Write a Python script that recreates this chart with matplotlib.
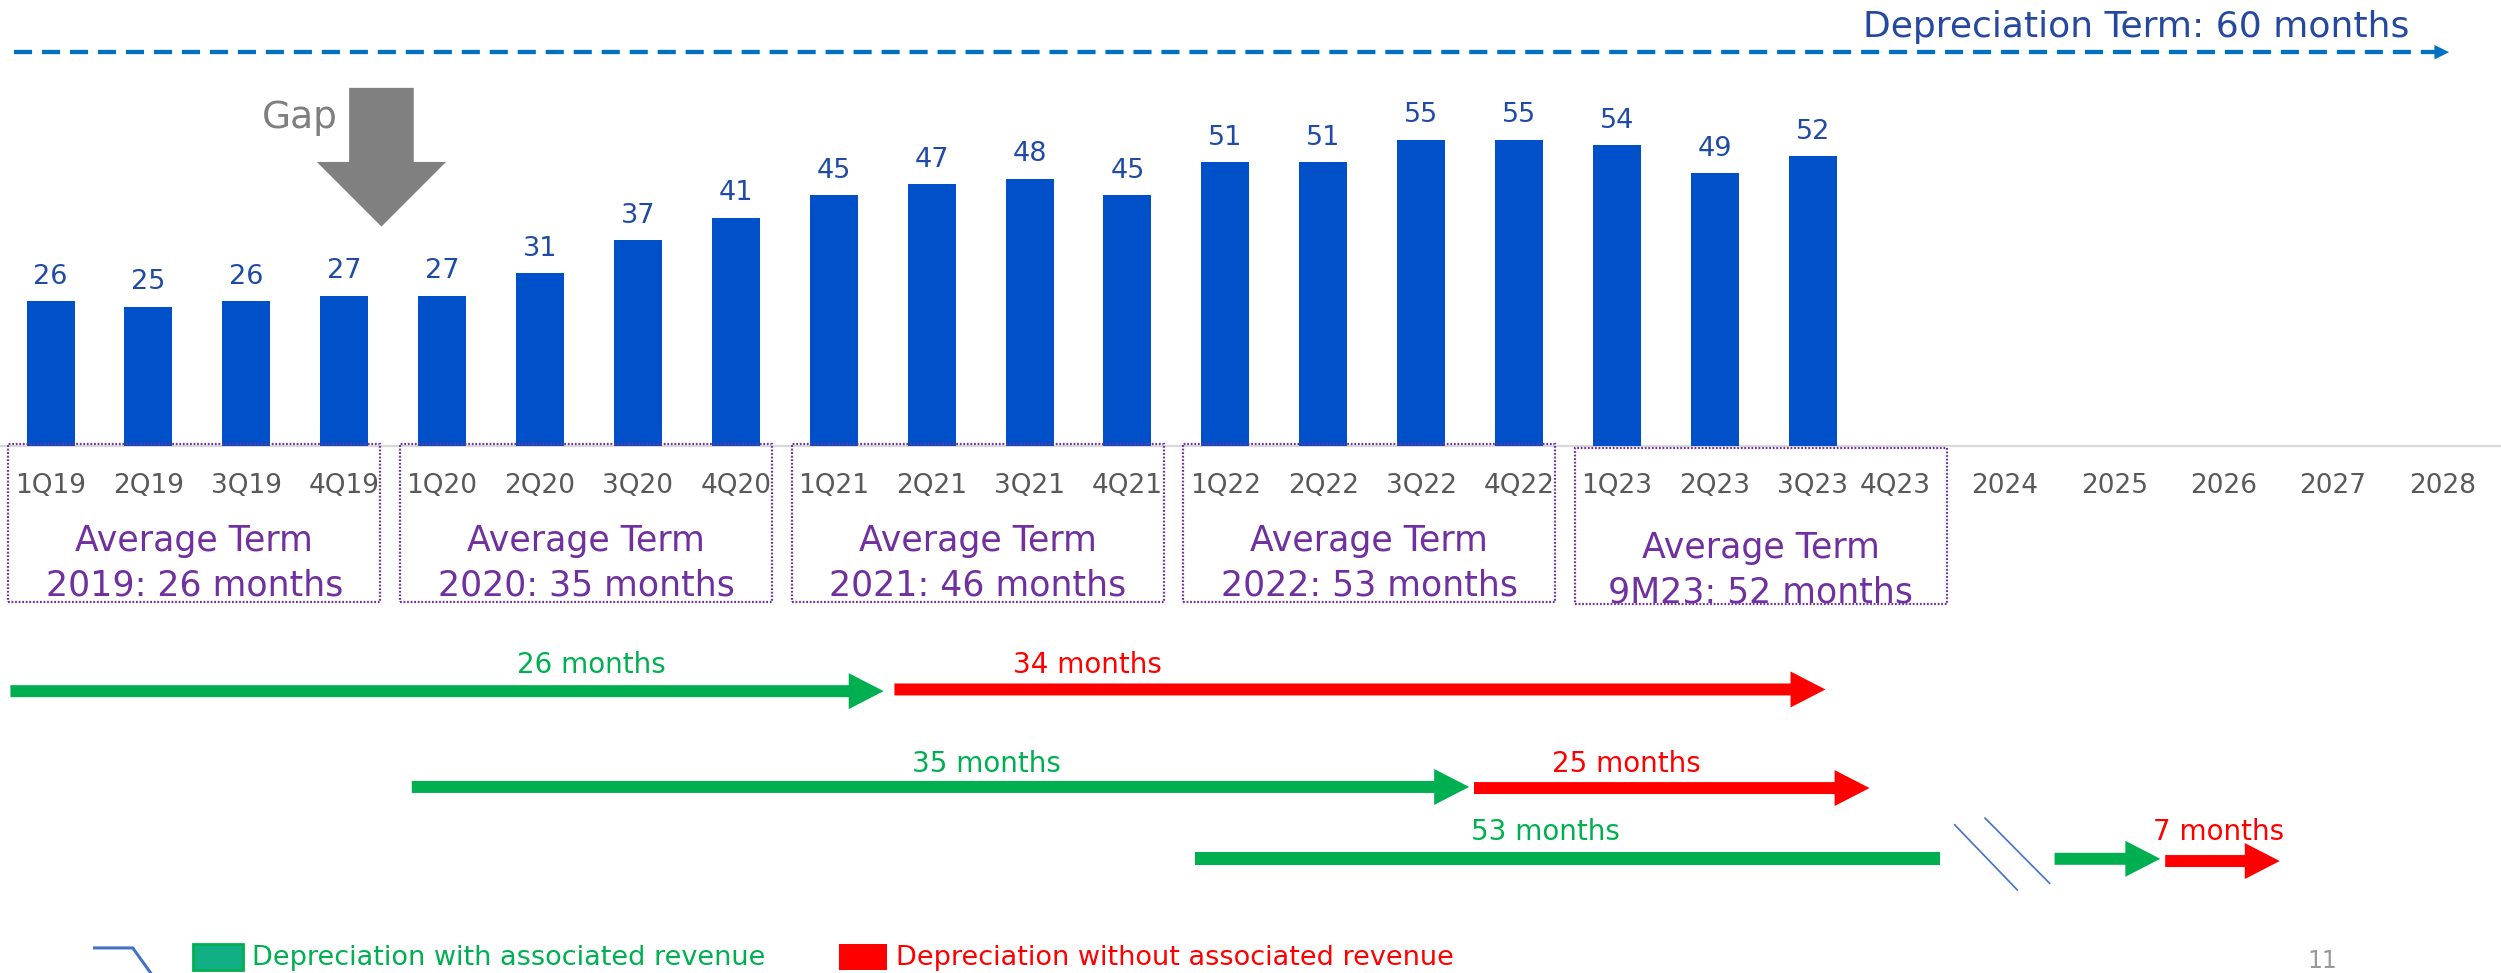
import matplotlib.pyplot as plt
from matplotlib.patches import FancyArrow, Rectangle

# ------------------------------------------------------------
# Data
# ------------------------------------------------------------
quarters = ["1Q19", "2Q19", "3Q19", "4Q19", "1Q20", "2Q20", "3Q20", "4Q20",
            "1Q21", "2Q21", "3Q21", "4Q21", "1Q22", "2Q22", "3Q22", "4Q22",
            "1Q23", "2Q23", "3Q23"]
term_months = [26, 25, 26, 27, 27, 31, 37, 41, 45, 47, 48, 45,
               51, 51, 55, 55, 54, 49, 52]

future_ticks = ["4Q23", "2024", "2025", "2026", "2027", "2028"]
future_pos = [18.84, 19.96, 21.08, 22.2, 23.31, 24.43]

period_names = ["2019", "2020", "2021", "2022", "9M23"]
period_avg = [26, 35, 46, 53, 52]

depreciation_term = 60
with_revenue = [26, 35, 53]
without_revenue = [34, 25, 7]

BAR_BLUE = "#0051C9"
LABEL_BLUE = "#1F4BA6"
PURPLE = "#7030A0"
GREEN = "#00B050"
RED = "#FF0000"
GREY_TXT = "#595959"

plt.rcParams["font.family"] = ["DejaVu Sans"]

fig = plt.figure(figsize=(25.01, 9.73), dpi=100)
ax = fig.add_axes([0, 0, 1, 1])
ax.set_xlim(-0.516, 25.03)
ax.set_ylim(-94.6, 80.07)
ax.axis("off")

# ------------------------------------------------------------
# Bars + value labels
# ------------------------------------------------------------
x = list(range(len(quarters)))
ax.axhline(0, color="#D9D9D9", lw=1.6, zorder=1)
ax.bar(x, term_months, width=0.49, color=BAR_BLUE, zorder=2)
for xi, v in zip(x, term_months):
    ax.annotate(str(v), (xi, v), xytext=(0, 12.5), textcoords="offset points",
                ha="center", va="baseline", fontsize=19.5, color=LABEL_BLUE)

# tick labels (quarters + future years)
for xi, lab in list(zip(x, quarters)) + list(zip(future_pos, future_ticks)):
    ax.text(xi, -8.4, lab, ha="center", va="baseline", fontsize=19, color=GREY_TXT)

# ------------------------------------------------------------
# Average term boxes
# ------------------------------------------------------------
for g, (name, avg) in enumerate(zip(period_names, period_avg)):
    left = 4 * g - 0.43
    top = 0.3 if g < 4 else -0.36
    bottom = -28.0 if g < 4 else -28.4
    ax.add_patch(Rectangle((left, bottom), 3.8, top - bottom, fill=False,
                           edgecolor=PURPLE, lw=1.6, ls=(0, (0.8, 0.8)), zorder=3))
    cx = left + 1.9
    y1, y2 = (-18.8, -26.9) if g < 4 else (-20.1, -28.1)
    ax.text(cx, y1, "Average Term", ha="center", va="baseline", fontsize=25, color=PURPLE)
    ax.text(cx, y2, f"{name}: {avg} months", ha="center", va="baseline",
            fontsize=25, color=PURPLE)

# ------------------------------------------------------------
# Depreciation term line (top)
# ------------------------------------------------------------
ax.plot([-0.37, 24.36], [70.7, 70.7], color="#0070C0", lw=3.1,
        ls=(0, (4.2, 2.3)), solid_capstyle="butt")
ax.fill([24.35, 24.5, 24.35], [72.0, 70.7, 69.4], color="#0070C0", lw=0)
ax.text(24.09, 73.5, f"Depreciation Term: {depreciation_term} months",
        ha="right", va="baseline", fontsize=26, color="#2549A0")

# Gap marker
ax.add_patch(FancyArrow(3.38, 64.3, 0, -24.9, width=0.66, head_width=1.32,
                        head_length=11.6, length_includes_head=True,
                        color="#808080", lw=0))
ax.text(2.55, 57.1, "Gap", ha="center", va="baseline", fontsize=27, color="#7F7F7F")

# ------------------------------------------------------------
# With / without revenue arrows
# ------------------------------------------------------------
def harrow(x0, x1, y, color):
    ax.add_patch(FancyArrow(x0, y, x1 - x0, 0, width=2.15, head_width=6.46,
                            head_length=0.357, length_includes_head=True,
                            color=color, lw=0))

# 2019 cohort
harrow(-0.41, 8.51, -44.0, GREEN)
harrow(8.62, 18.13, -43.7, RED)
ax.text(5.52, -40.7, f"{with_revenue[0]} months", ha="center", va="baseline",
        fontsize=20, color=GREEN)
ax.text(10.59, -40.7, f"{without_revenue[0]} months", ha="center", va="baseline",
        fontsize=20, color=RED)

# 2020 cohort
harrow(3.69, 14.49, -61.2, GREEN)
harrow(14.54, 18.58, -61.4, RED)
ax.text(9.56, -58.6, f"{with_revenue[1]} months", ha="center", va="baseline",
        fontsize=20, color=GREEN)
ax.text(16.1, -58.6, f"{without_revenue[1]} months", ha="center", va="baseline",
        fontsize=20, color=RED)

# 2022 cohort (axis break)
ax.add_patch(Rectangle((11.69, -75.2), 19.30 - 11.69, 2.3, color=GREEN, lw=0))
ax.plot([19.45, 20.09], [-68.0, -79.7], color="#4472C4", lw=1.2)
ax.plot([19.76, 20.42], [-66.8, -78.5], color="#4472C4", lw=1.2)
harrow(20.47, 21.55, -74.1, GREEN)
harrow(21.6, 22.77, -74.5, RED)
ax.text(15.27, -70.7, f"{with_revenue[2]} months", ha="center", va="baseline",
        fontsize=20, color=GREEN)
ax.text(22.15, -70.7, f"{without_revenue[2]} months", ha="center", va="baseline",
        fontsize=20, color=RED)

# ------------------------------------------------------------
# Legend + page number
# ------------------------------------------------------------
ax.plot([0.45, 0.84, 1.06], [-90.1, -90.1, -95.5], color="#4472C4", lw=2.2)
ax.add_patch(Rectangle((1.46, -94.0), 0.51, 4.6, facecolor="#12AF84",
                       edgecolor=GREEN, lw=2))
ax.text(2.06, -93.2, "Depreciation with associated revenue", ha="left",
        va="baseline", fontsize=19.5, color=GREEN)
ax.add_patch(Rectangle((8.05, -94.0), 0.49, 4.6, facecolor=RED, lw=0))
ax.text(8.64, -93.2, "Depreciation without associated revenue", ha="left",
        va="baseline", fontsize=19.5, color=RED)
ax.text(23.2, -93.7, "11", ha="center", va="baseline", fontsize=17, color="#999999")

fig.savefig("out.png", dpi=100)
